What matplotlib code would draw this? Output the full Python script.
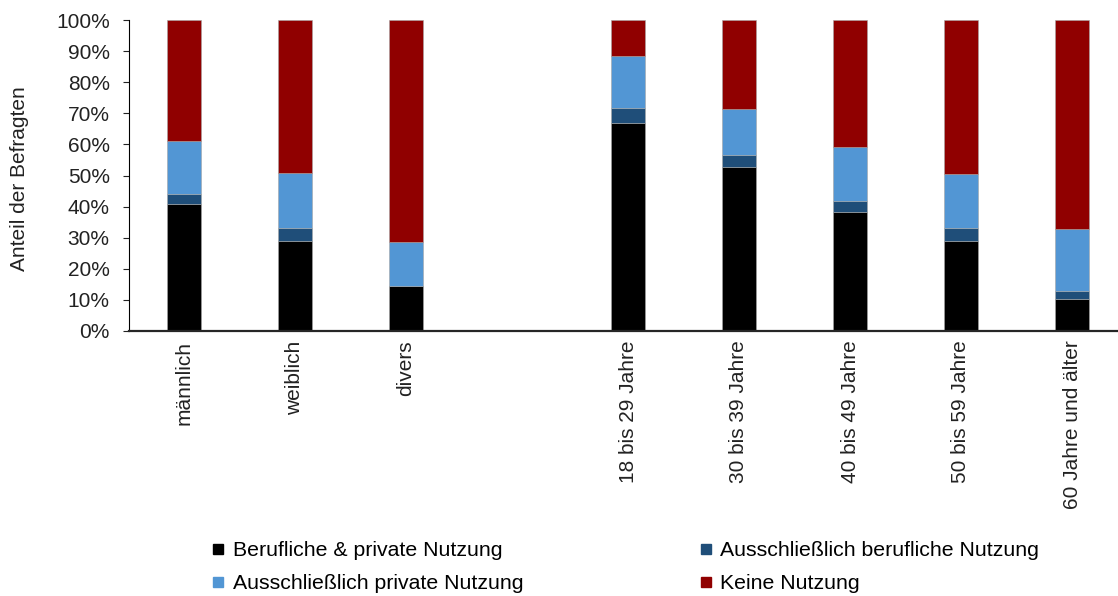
import matplotlib
matplotlib.use("Agg")
import matplotlib.pyplot as plt
from matplotlib.lines import Line2D
import numpy as np

plt.rcParams['font.family'] = ['Liberation Sans', 'DejaVu Sans']
plt.rcParams['font.size'] = 15

# Survey groups (share of respondents in %)
gender_groups = ["männlich", "weiblich", "divers"]
age_groups = ["18 bis 29 Jahre", "30 bis 39 Jahre", "40 bis 49 Jahre",
              "50 bis 59 Jahre", "60 Jahre und älter"]

series_names = ["Berufliche & private Nutzung", "Ausschließlich berufliche Nutzung",
                "Ausschließlich private Nutzung", "Keine Nutzung"]
beruflich_privat = [40.8, 28.9, 14.5, 67.0, 52.6, 38.3, 28.9, 10.3]
nur_beruflich = [3.3, 4.1, 0.0, 4.8, 4.0, 3.5, 4.1, 2.5]
nur_privat = [17.0, 17.9, 14.1, 16.5, 14.7, 17.4, 17.4, 20.0]
keine = [38.9, 49.1, 71.4, 11.7, 28.7, 40.8, 49.6, 67.2]

colors = ["#000000", "#1f4e79", "#5296d4", "#900000"]

labels = gender_groups + age_groups
# one empty slot between the gender and the age block
x = np.array(list(range(len(gender_groups))) +
             [len(gender_groups) + 1 + i for i in range(len(age_groups))])

fig = plt.figure(figsize=(11.18, 5.96), dpi=100)
ax = fig.add_axes([128.5 / 1118, 265 / 596, 999 / 1118, 311 / 596])

bottom = np.zeros(len(labels))
for name, vals, col in zip(series_names,
                           [beruflich_privat, nur_beruflich, nur_privat, keine],
                           colors):
    vals = np.array(vals)
    ax.bar(x, vals, width=0.315, bottom=bottom, color=col,
           edgecolor="#a6a6a6", linewidth=0.4, label=name)
    bottom += vals

ax.set_xlim(-0.5, len(gender_groups) + len(age_groups) + 0.5)
ax.set_ylim(0, 100)
ax.set_yticks(np.arange(0, 101, 10))
ax.set_yticklabels([f"{v}%" for v in range(0, 101, 10)])
ax.set_xticks(x)
ax.set_xticklabels(labels, rotation=90, va="top", ha="center")

ax.tick_params(axis="y", direction="out", length=4.5, width=0.8, pad=9,
               colors="#222222", labelsize=15)
ax.tick_params(axis="x", length=0, pad=7, colors="#222222", labelsize=15)

for side in ["top", "right"]:
    ax.spines[side].set_visible(False)
ax.spines["left"].set_color("#000000")
ax.spines["left"].set_linewidth(0.8)
ax.spines["bottom"].set_color("#262626")
ax.spines["bottom"].set_linewidth(1.6)

ax.set_ylabel("Anteil der Befragten", fontsize=15, color="#222222")
ax.yaxis.set_label_coords(-0.0996, 0.49)

# legend: column 1 = black / light blue, column 2 = dark blue / red
order = [0, 2, 1, 3]
handles = [Line2D([0], [0], marker="s", linestyle="none", markersize=7.5,
                  markerfacecolor=colors[i], markeredgecolor=colors[i])
           for i in order]
fig.legend(handles, [series_names[i] for i in order], ncol=2,
           loc="upper left", bbox_to_anchor=(211 / 1118, 1 - 541 / 596),
           frameon=False, handlelength=0.7, handletextpad=0.35,
           columnspacing=8.2, labelspacing=0.68, fontsize=15.3,
           borderaxespad=0, borderpad=0)

fig.savefig("out.png", dpi=100)
